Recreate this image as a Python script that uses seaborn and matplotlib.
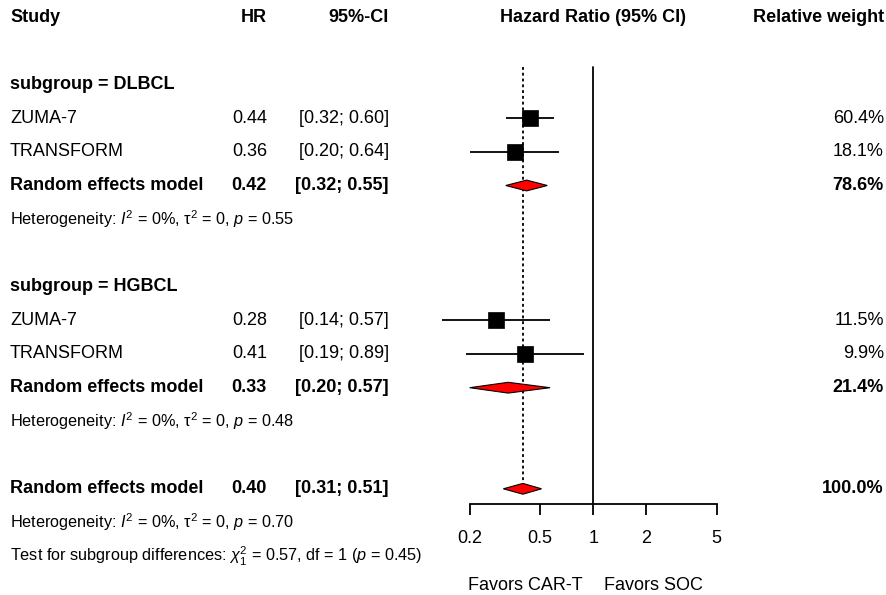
import numpy as np
import pandas as pd
import matplotlib
matplotlib.use("Agg")
import matplotlib.pyplot as plt
import seaborn as sns
from matplotlib import transforms

# ---------------- data ----------------
study = ["ZUMA-7", "TRANSFORM", "ZUMA-7", "TRANSFORM"]
subgroup = ["DLBCL", "DLBCL", "HGBCL", "HGBCL"]
hr = [0.44, 0.36, 0.28, 0.41]
ci_lo = [0.32, 0.20, 0.14, 0.19]
ci_hi = [0.60, 0.64, 0.57, 0.89]
weight = ["60.4%", "18.1%", "11.5%", "9.9%"]

sub_names = ["DLBCL", "HGBCL"]
sub_hr = [0.42, 0.33]
sub_lo = [0.32, 0.20]
sub_hi = [0.55, 0.57]
sub_weight = ["78.6%", "21.4%"]
sub_het_p = ["0.55", "0.48"]

overall_hr = 0.40
overall_lo = 0.31
overall_hi = 0.51
overall_weight = "100.0%"
overall_het_p = "0.70"
test_chi2 = "0.57"
test_df = "1"
test_p = "0.45"

tick_vals = [0.2, 0.5, 1, 2, 5]
tick_labels = ["0.2", "0.5", "1", "2", "5"]

# ---------------- style ----------------
sns.set_theme(style="white")
plt.rcParams["font.family"] = ["Liberation Sans", "DejaVu Sans"]
plt.rcParams["mathtext.fontset"] = "custom"
plt.rcParams["mathtext.rm"] = "Liberation Sans"
plt.rcParams["mathtext.it"] = "Liberation Sans:italic"
plt.rcParams["mathtext.bf"] = "Liberation Sans:bold"

FS = 13.0
FS_SMALL = 11.7
W, H = 887, 595
fig = plt.figure(figsize=(W / 100, H / 100), dpi=100)

x_left_px, x_right_px = 469.7, 716.7
axis_px = 504
row0_px, row_h = 17.0, 33.7
ax = fig.add_axes([x_left_px / W, (H - axis_px) / H,
                   (x_right_px - x_left_px) / W, axis_px / H])
ax.set_xscale("log")
ax.set_xlim(0.2, 5)
ax.set_ylim((axis_px - row0_px) / row_h, -row0_px / row_h)
ax.set_facecolor("none")
for s in ["top", "right", "left"]:
    ax.spines[s].set_visible(False)
ax.spines["bottom"].set_linewidth(1.3)
ax.spines["bottom"].set_color("black")
ax.set_xticks(tick_vals)
ax.set_xticklabels(tick_labels)
ax.xaxis.set_minor_locator(matplotlib.ticker.NullLocator())
ax.tick_params(axis="x", direction="out", length=7.9, width=1.3, pad=10.5,
               labelsize=FS, colors="black", bottom=True)
ax.set_yticks([])
ax.grid(False)

# rows
study_rows = [3, 4, 9, 10]
sub_header_rows = [2, 8]
sub_re_rows = [5, 11]
sub_het_rows = [6, 12]
overall_row = 14
overall_het_row = 15
test_row = 16

# reference lines
ax.plot([1, 1], [1.48, (axis_px - row0_px) / row_h], color="black", lw=1.3,
        clip_on=False, zorder=1)
ax.plot([overall_hr, overall_hr], [1.48, overall_row], color="black", lw=1.3,
        linestyle=(0, (1.6, 1.6)), clip_on=False, zorder=1)

# CI lines and squares
ax.hlines(study_rows, ci_lo, ci_hi, color="black", lw=1.3, zorder=2,
          clip_on=False)
df = pd.DataFrame({"hr": hr, "row": study_rows, "study": study})
sns.scatterplot(data=df, x="hr", y="row", marker="s", s=128, color="black",
                edgecolor="black", linewidth=0.5, ax=ax, zorder=3, legend=False,
                clip_on=False)
ax.set_xlabel("")
ax.set_ylabel("")

# diamonds
dh = 0.16
def diamond(est, lo, hi, r):
    ax.fill([lo, est, hi, est, lo], [r, r - dh, r, r + dh, r], facecolor="#FF0000",
            edgecolor="black", lw=0.8, zorder=4, clip_on=False)

for e, l, h, r in zip(sub_hr, sub_lo, sub_hi, sub_re_rows):
    diamond(e, l, h, r)
diamond(overall_hr, overall_lo, overall_hi, overall_row)

# ---------------- text columns ----------------
tr = transforms.blended_transform_factory(fig.transFigure, ax.transData)
def T(xpx, row, s, ha="left", bold=False, size=FS):
    fig.text(xpx / W, row, s, transform=tr, ha=ha, va="center",
             fontsize=size, fontweight="bold" if bold else "normal",
             color="black")

X_STUDY, X_HR, X_CI, X_W = 10, 267, 389, 884
X_MID = 593

# header
T(X_STUDY, 0, "Study", bold=True)
T(X_HR, 0, "HR", ha="right", bold=True)
T(X_CI, 0, "95%-CI", ha="right", bold=True)
T(X_MID, 0, "Hazard Ratio (95% CI)", ha="center", bold=True)
T(X_W, 0, "Relative weight", ha="right", bold=True)

def het(row, p):
    T(X_STUDY, row, r"Heterogeneity: $I^2$ = 0%, τ$^2$ = 0, $p$ = " + p,
      size=FS_SMALL)

for i, name in enumerate(sub_names):
    T(X_STUDY, sub_header_rows[i], f"subgroup = {name}", bold=True)
    for j in range(len(study)):
        if subgroup[j] == name:
            r = study_rows[j]
            T(X_STUDY, r, study[j])
            T(X_HR, r, f"{hr[j]:.2f}", ha="right")
            T(X_CI, r, f"[{ci_lo[j]:.2f}; {ci_hi[j]:.2f}]", ha="right")
            T(X_W, r, weight[j], ha="right")
    r = sub_re_rows[i]
    T(X_STUDY, r, "Random effects model", bold=True)
    T(X_HR, r, f"{sub_hr[i]:.2f}", ha="right", bold=True)
    T(X_CI, r, f"[{sub_lo[i]:.2f}; {sub_hi[i]:.2f}]", ha="right", bold=True)
    T(X_W, r, sub_weight[i], ha="right", bold=True)
    het(sub_het_rows[i], sub_het_p[i])

T(X_STUDY, overall_row, "Random effects model", bold=True)
T(X_HR, overall_row, f"{overall_hr:.2f}", ha="right", bold=True)
T(X_CI, overall_row, f"[{overall_lo:.2f}; {overall_hi:.2f}]", ha="right", bold=True)
T(X_W, overall_row, overall_weight, ha="right", bold=True)
het(overall_het_row, overall_het_p)
T(X_STUDY, test_row,
  r"Test for subgroup differences: $\chi^2_1$ = " + test_chi2 +
  ", df = " + test_df + r" ($p$ = " + test_p + ")", size=FS_SMALL)

fav_row = (586 - row0_px) / row_h
T(583, fav_row, "Favors CAR-T", ha="right")
T(604, fav_row, "Favors SOC", ha="left")

fig.savefig("out.png", dpi=100)
